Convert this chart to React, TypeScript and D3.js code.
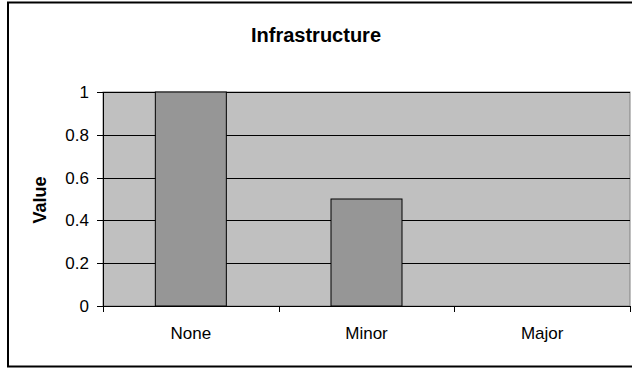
import React from "react";
import * as d3 from "d3";

const categories: string[] = ["None", "Minor", "Major"];
const values: number[] = [1, 0.5, 0];
const yTicks: number[] = [0, 0.2, 0.4, 0.6, 0.8, 1];
const title = "Infrastructure";
const yTitle = "Value";

export default function App() {
  const W = 632;
  const H = 368;
  const left = 103;
  const right = 630;
  const top = 92;
  const bottom = 306;

  const xb = d3.scaleBand<string>().domain(categories).range([left, right]);
  const y = d3.scaleLinear().domain([0, 1]).range([bottom, top]);
  const font = "Arial, 'Liberation Sans', sans-serif";
  const barW = 71;

  return (
    <svg width={W} height={H} style={{ position: "absolute", left: 0, top: 0 }} fontFamily={font}>
      <rect x={0} y={0} width={W} height={H} fill="#fff" />
      <rect x={8} y={2.5} width={640} height={364} fill="#fff" stroke="#000" strokeWidth={2} />
      <text x={316} y={42} textAnchor="middle" fontSize={20} fontWeight="bold">{title}</text>
      <rect x={left} y={top} width={right - left} height={bottom - top} fill="#C0C0C0" stroke="#808080" strokeWidth={1} />
      {yTicks.filter((t) => t > 0).map((t) => (
        <line key={"g" + t} x1={left} x2={right} y1={Math.round(y(t)) + 0.5} y2={Math.round(y(t)) + 0.5} stroke="#000" strokeWidth={1} />
      ))}
      {categories.map((c, i) => (
        <rect key={c} x={xb(c)! + (xb.bandwidth() - barW) / 2} y={y(values[i])} width={barW} height={bottom - y(values[i])}
          fill={values[i] > 0 ? "#969696" : "none"} stroke={values[i] > 0 ? "#000" : "none"} strokeWidth={1} />
      ))}
      <line x1={left + 0.5} x2={left + 0.5} y1={top} y2={bottom} stroke="#000" />
      <line x1={left} x2={right} y1={bottom + 0.5} y2={bottom + 0.5} stroke="#000" />
      {yTicks.map((t) => (
        <g key={"t" + t}>
          <line x1={97} x2={left} y1={Math.round(y(t)) + 0.5} y2={Math.round(y(t)) + 0.5} stroke="#000" />
          <text x={89} y={y(t) + 6} textAnchor="end" fontSize={17}>{d3.format("")(t)}</text>
        </g>
      ))}
      {d3.range(categories.length + 1).map((i) => {
        const xx = Math.round(left + i * xb.step()) + 0.5;
        return <line key={"xt" + i} x1={xx} x2={xx} y1={bottom} y2={bottom + 6} stroke="#000" />;
      })}
      {categories.map((c) => (
        <text key={"l" + c} x={xb(c)! + xb.bandwidth() / 2} y={339} textAnchor="middle" fontSize={17}>{c}</text>
      ))}
      <text transform={`translate(46,200) rotate(-90)`} textAnchor="middle" fontSize={18} fontWeight="bold">{yTitle}</text>
    </svg>
  );
}
